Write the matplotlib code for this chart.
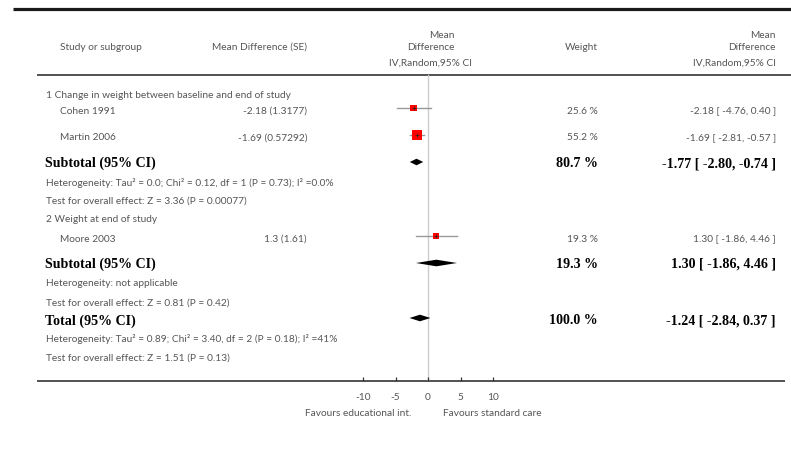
import matplotlib
matplotlib.use("Agg")
import matplotlib.pyplot as plt

# ---- study level data ----
study_names = ["Cohen 1991", "Martin 2006", "Moore 2003"]
study_md = [-2.18, -1.69, 1.30]
study_se = ["1.3177", "0.57292", "1.61"]
study_md_text = ["-2.18", "-1.69", "1.3"]
study_lo = [-4.76, -2.81, -1.86]
study_hi = [0.40, -0.57, 4.46]
study_weight = [25.6, 55.2, 19.3]

# ---- pooled estimates ----
pooled_labels = ["Subtotal (95% CI)", "Subtotal (95% CI)", "Total (95% CI)"]
pooled_md = [-1.77, 1.30, -1.24]
pooled_lo = [-2.80, -1.86, -2.84]
pooled_hi = [-0.74, 4.46, 0.37]
pooled_weight = [80.7, 19.3, 100.0]

group_titles = ["1 Change in weight between baseline and end of study",
                "2 Weight at end of study"]
heterogeneity = ["Heterogeneity: Tau\u00b2 = 0.0; Chi\u00b2 = 0.12, df = 1 (P = 0.73); I\u00b2 =0.0%",
                 "Heterogeneity: not applicable",
                 "Heterogeneity: Tau\u00b2 = 0.89; Chi\u00b2 = 3.40, df = 2 (P = 0.18); I\u00b2 =41%"]
overall_effect = ["Test for overall effect: Z = 3.36 (P = 0.00077)",
                  "Test for overall effect: Z = 0.81 (P = 0.42)",
                  "Test for overall effect: Z = 1.51 (P = 0.13)"]

x_ticks = [-10, -5, 0, 5, 10]
favours_left = "Favours educational int."
favours_right = "Favours standard care"

# ---- layout (pixel rows, top = 0) ----
W, H = 791, 455
study_rows = [108, 135, 236]
pooled_rows = [162, 263, 318]
group_rows = [95, 220]
het_rows = [183, 284, 339]
test_rows = [201, 303, 358]
axis_y = 381
txt_dy = 2.5

SANS = ["Lato", "DejaVu Sans"]
SERIF = ["Liberation Serif", "DejaVu Serif"]
GREY = "#555555"
fs = 7.3
fs_bold = 10.1

fig = plt.figure(figsize=(W / 100, H / 100), dpi=100)
bg = fig.add_axes([0, 0, 1, 1])
bg.set_xlim(0, W)
bg.set_ylim(H, 0)
bg.axis("off")

def txt(x, y, s, ha="left", bold=False, **kw):
    if bold:
        bg.text(x, y, s, ha=ha, va="center", fontsize=fs_bold, family=SERIF,
                fontweight="bold", color="black", **kw)
    else:
        bg.text(x, y, s, ha=ha, va="center", fontsize=fs, family=SANS,
                color=GREY, **kw)

# rules
bg.plot([13, W], [9, 9], color="#1a1a1a", lw=2.3, solid_capstyle="butt")
bg.plot([37, W], [74.5, 74.5], color="#222222", lw=1.1, solid_capstyle="butt")
bg.plot([37, 785], [axis_y, axis_y], color="#444444", lw=1.3, solid_capstyle="butt")

# header
txt(60, 47, "Study or subgroup")
txt(212, 47, "Mean Difference (SE)")
txt(455, 36, "Mean", ha="right")
txt(455, 47, "Difference", ha="right")
txt(389, 63, "IV,Random,95% CI")
txt(598, 47, "Weight", ha="right")
txt(776, 36, "Mean", ha="right")
txt(776, 47, "Difference", ha="right")
txt(776, 63, "IV,Random,95% CI", ha="right")

# left / right text columns
for y, t in zip(group_rows, group_titles):
    txt(46, y, t)
for i, name in enumerate(study_names):
    y = study_rows[i] + txt_dy + 0.5
    txt(60, y, name)
    txt(307, y, f"{study_md_text[i]} ({study_se[i]})", ha="right")
    txt(598, y, f"{study_weight[i]:.1f} %", ha="right")
    txt(776, y, f"{study_md[i]:.2f} [ {study_lo[i]:.2f}, {study_hi[i]:.2f} ]", ha="right")
for i, lab in enumerate(pooled_labels):
    y = pooled_rows[i] + (1.5 if i < 2 else 3)
    txt(45, y, lab, bold=True)
    txt(598, y, f"{pooled_weight[i]:.1f} %", ha="right", bold=True)
    txt(776, y, f"{pooled_md[i]:.2f} [ {pooled_lo[i]:.2f}, {pooled_hi[i]:.2f} ]",
        ha="right", bold=True)
for y, t in zip(het_rows, heterogeneity):
    txt(46, y, t)
for y, t in zip(test_rows, overall_effect):
    txt(46, y, t)

txt(411, 414, favours_left, ha="right")
txt(443, 414, favours_right, ha="left")

# ---- forest panel: x in mean-difference units, y in pixel rows ----
px_per_unit = 6.5
x0_px = 428
half = 20
left_px = x0_px - half * px_per_unit
ax = fig.add_axes([left_px / W, (H - axis_y) / H, 2 * half * px_per_unit / W, axis_y / H])
ax.set_xlim(-half, half)
ax.set_ylim(axis_y, 0)
ax.patch.set_alpha(0)
for sp in ax.spines.values():
    sp.set_visible(False)
ax.set_yticks([])
ax.set_xticks(x_ticks)
ax.set_xticklabels([str(t) for t in x_ticks], fontsize=fs, family=SANS, color=GREY)
ax.tick_params(axis="x", direction="in", length=3.2, width=0.9, color="#333333", pad=8.5)

# line of no effect
ax.plot([0, 0], [75, axis_y], color="#cccccc", lw=1.0, zorder=1)

# individual studies
for i in range(len(study_names)):
    y = study_rows[i]
    ax.plot([study_lo[i], study_hi[i]], [y, y], color="#999999", lw=1.0, zorder=2)
    side_px = 1.36 * study_weight[i] ** 0.5
    ax.scatter([study_md[i]], [y], marker="s", s=(side_px * 0.72) ** 2,
               color="#ff0000", edgecolors="none", zorder=3)
    ax.plot([study_md[i]], [y], marker="+", ms=3, color="#222222", mew=0.5, zorder=4)

# pooled diamonds
for i in range(len(pooled_md)):
    y = pooled_rows[i]
    h = 3.3
    ax.fill([pooled_lo[i], pooled_md[i], pooled_hi[i], pooled_md[i]],
            [y, y - h, y, y + h], color="black", lw=0, zorder=3)

fig.savefig("out.png", dpi=100)
